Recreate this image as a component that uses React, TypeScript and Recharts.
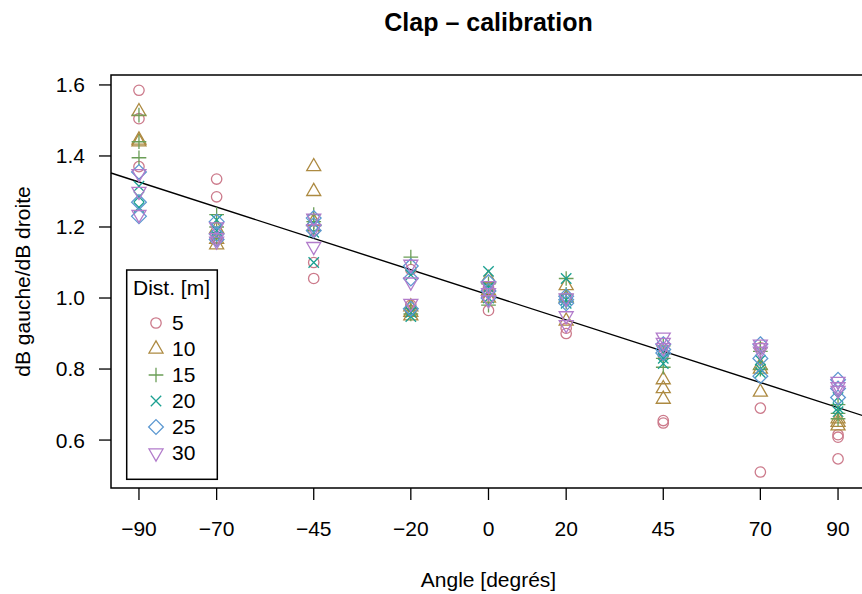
import React from "react";
import { ScatterChart, Scatter, XAxis, YAxis, ReferenceLine, ReferenceArea } from "recharts";

// ---- data ----
const angles = [-90, -70, -45, -20, 0, 20, 45, 70, 90];
const yTicks = [0.6, 0.8, 1.0, 1.2, 1.4, 1.6];
const distLabels = ["5", "10", "15", "20", "25", "30"];

// three repeated measurements per angle, one row per angle
const dist5 = [[1.585, 1.505, 1.37], [1.335, 1.285, 1.17], [1.10, 1.055, 1.19], [1.08, 0.98, 0.965], [1.03, 1.0, 0.965], [1.0, 0.915, 0.9], [0.84, 0.655, 0.648], [0.86, 0.69, 0.51], [0.615, 0.608, 0.547]];
const dist10 = [[1.525, 1.445, 1.44], [1.195, 1.165, 1.15], [1.37, 1.30, 1.215], [0.975, 0.96, 0.95], [1.055, 1.02, 1.0], [1.035, 1.0, 0.935], [0.77, 0.745, 0.715], [0.81, 0.8, 0.735], [0.66, 0.65, 0.64]];
const dist15 = [[1.515, 1.44, 1.395], [1.235, 1.2, 1.17], [1.235, 1.215, 1.19], [1.115, 0.97, 0.955], [1.04, 1.005, 0.98], [1.055, 1.01, 0.99], [0.865, 0.83, 0.805], [0.86, 0.85, 0.8], [0.7, 0.675, 0.66]];
const dist20 = [[1.315, 1.285, 1.255], [1.22, 1.19, 1.175], [1.21, 1.185, 1.1], [1.065, 0.96, 0.948], [1.075, 1.03, 1.0], [1.055, 0.995, 0.985], [0.85, 0.83, 0.815], [0.825, 0.8, 0.79], [0.72, 0.69, 0.68]];
const dist25 = [[1.355, 1.27, 1.23], [1.215, 1.18, 1.165], [1.225, 1.205, 1.19], [1.09, 1.055, 0.97], [1.045, 1.02, 1.0], [1.005, 0.995, 0.985], [0.87, 0.855, 0.845], [0.87, 0.83, 0.78], [0.77, 0.745, 0.72]];
const dist30 = [[1.35, 1.3, 1.235], [1.2, 1.17, 1.16], [1.225, 1.195, 1.145], [1.095, 1.045, 0.985], [1.035, 1.015, 0.995], [1.0, 0.95, 0.925], [0.89, 0.875, 0.86], [0.87, 0.86, 0.85], [0.765, 0.75, 0.74]];

// fitted line
const fitIntercept = 1.009;
const fitSlope = -0.00353;

const xDomain: [number, number] = [-97.2, 97.2];
const yDomain: [number, number] = [0.465, 1.628];

const COLORS = ["#CC7A8B", "#AD8A41", "#6B9E57", "#1AA091", "#5C98D1", "#B27CCB"];
const FONT = "'Liberation Sans', Arial, Helvetica, sans-serif";

const allSeries = [dist5, dist10, dist15, dist20, dist25, dist30];
const seriesData = allSeries.map((rows) =>
  rows.flatMap((vals, i) => vals.map((v) => ({ x: angles[i], y: v })))
);

const R = 5.2;
const SW = 1.3;

function Marker({ cx, cy, kind, color }: { cx: number; cy: number; kind: number; color: string }) {
  const common = { fill: "none", stroke: color, strokeWidth: SW };
  if (cx == null || cy == null) return null;
  switch (kind) {
    case 0:
      return <circle cx={cx} cy={cy} r={R} {...common} />;
    case 1: {
      const r = 1.5551 * R, yc = 0.7776 * R, xc = 1.3468 * R;
      return <polygon points={`${cx},${cy - r} ${cx + xc},${cy + yc} ${cx - xc},${cy + yc}`} {...common} />;
    }
    case 2: {
      const a = Math.SQRT2 * R;
      return <path d={`M${cx - a},${cy}H${cx + a}M${cx},${cy - a}V${cy + a}`} {...common} />;
    }
    case 3: {
      const a = R;
      return <path d={`M${cx - a},${cy - a}L${cx + a},${cy + a}M${cx - a},${cy + a}L${cx + a},${cy - a}`} {...common} />;
    }
    case 4: {
      const a = Math.SQRT2 * R;
      return <polygon points={`${cx},${cy - a} ${cx + a},${cy} ${cx},${cy + a} ${cx - a},${cy}`} {...common} />;
    }
    default: {
      const r = 1.5551 * R, yc = 0.7776 * R, xc = 1.3468 * R;
      return <polygon points={`${cx},${cy + r} ${cx + xc},${cy - yc} ${cx - xc},${cy - yc}`} {...common} />;
    }
  }
}

const fmtX = (v: number) => (v < 0 ? "\u2212" + Math.abs(v) : String(v));
const fmtY = (v: number) => v.toFixed(1);

export default function App() {
  const legendTop = 270;
  const legendLeft = 126.7;
  return (
    <div style={{ position: "fixed", left: 0, top: 0, width: 862, height: 594, overflow: "hidden", background: "#fff" }}>
      <ScatterChart width={871} height={594} margin={{ top: 75, right: 5, bottom: 56, left: 0 }}>
        <XAxis
          type="number"
          dataKey="x"
          domain={xDomain}
          allowDataOverflow
          ticks={angles}
          interval={0}
          tickFormatter={fmtX}
          axisLine={false}
          tickSize={12}
          tickMargin={21}
          height={50}
          tickLine={{ stroke: "#000", strokeWidth: 1.3 }}
          tick={{ fill: "#000", fontSize: 21, fontFamily: FONT }}
        />
        <YAxis
          type="number"
          dataKey="y"
          domain={yDomain}
          allowDataOverflow
          ticks={yTicks}
          interval={0}
          tickFormatter={fmtY}
          axisLine={false}
          tickSize={12}
          tickMargin={14}
          width={111}
          tickLine={{ stroke: "#000", strokeWidth: 1.3 }}
          tick={{ fill: "#000", fontSize: 21, fontFamily: FONT }}
        />
        <ReferenceArea
          x1={xDomain[0]}
          x2={xDomain[1]}
          y1={yDomain[0]}
          y2={yDomain[1]}
          fill="none"
          fillOpacity={0}
          stroke="#000"
          strokeWidth={1.5}
          ifOverflow="visible"
        />
        {seriesData.map((d, i) => (
          <Scatter
            key={distLabels[i]}
            name={distLabels[i]}
            data={d}
            isAnimationActive={false}
            shape={(p: any) => <Marker cx={p.cx} cy={p.cy} kind={i} color={COLORS[i]} />}
          />
        ))}
        <ReferenceLine
          segment={[
            { x: xDomain[0], y: fitIntercept + fitSlope * xDomain[0] },
            { x: xDomain[1], y: fitIntercept + fitSlope * xDomain[1] },
          ]}
          stroke="#000"
          strokeWidth={1.4}
          ifOverflow="visible"
        />
      </ScatterChart>
      <svg width={862} height={594} style={{ position: "absolute", left: 0, top: 0, pointerEvents: "none" }} fontFamily={FONT}>
        <text x={488.5} y={31} textAnchor="middle" fontSize={25} fontWeight="bold" fill="#000">
          Clap – calibration
        </text>
        <text x={488.5} y={587} textAnchor="middle" fontSize={21} fill="#000">
          Angle [degrés]
        </text>
        <text x={30} y={281.5} textAnchor="middle" fontSize={21} fill="#000" transform="rotate(-90 30 281.5)">
          dB gauche/dB droite
        </text>
        <rect x={legendLeft} y={legendTop} width={90.6} height={209.3} fill="#fff" stroke="#000" strokeWidth={1.5} />
        <text x={171.5} y={295} textAnchor="middle" fontSize={21} fill="#000">
          Dist. [m]
        </text>
        {distLabels.map((lab, i) => {
          const base = 330 + i * 26;
          return (
            <g key={lab}>
              <Marker cx={156} cy={base - 7} kind={i} color={COLORS[i]} />
              <text x={172} y={base} fontSize={21} fill="#000">
                {lab}
              </text>
            </g>
          );
        })}
      </svg>
    </div>
  );
}
